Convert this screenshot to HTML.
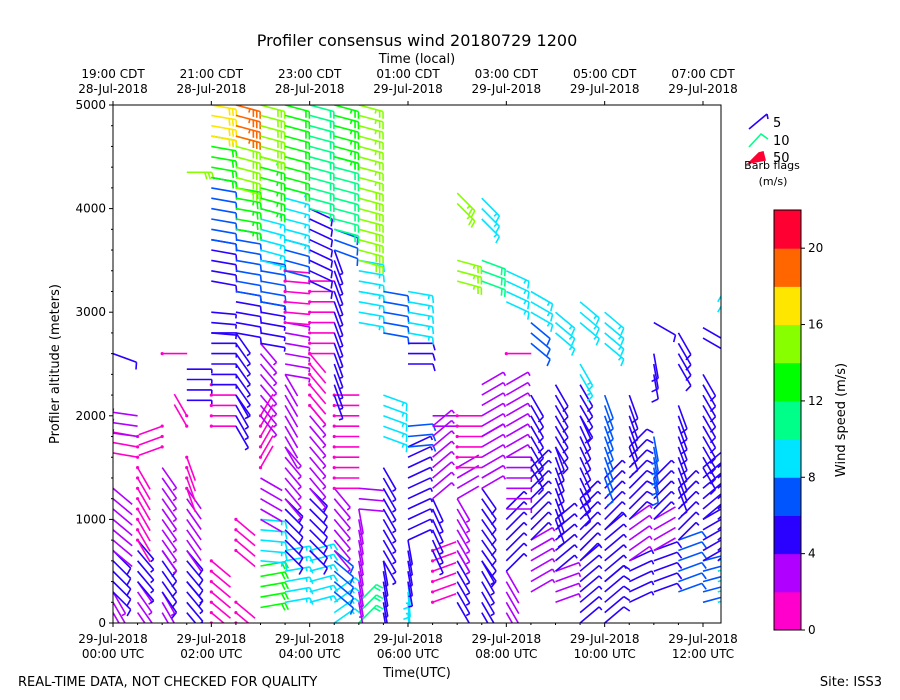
<!DOCTYPE html>
<html><head><meta charset="utf-8"><style>
body{margin:0;background:#fff;}
svg{display:block;font-family:"DejaVu Sans","Liberation Sans",sans-serif;}
</style></head><body>
<svg id="chart" width="900" height="700" viewBox="0 0 900 700">
<defs><clipPath id="plotclip"><rect x="113" y="105" width="608" height="518"/></clipPath></defs>
<text x="417" y="46" font-size="16" text-anchor="middle">Profiler consensus wind 20180729 1200</text>
<text x="417" y="63" font-size="13" text-anchor="middle">Time (local)</text>
<text x="417" y="677" font-size="13" text-anchor="middle">Time(UTC)</text>
<text x="59" y="364" font-size="13" text-anchor="middle" transform="rotate(-90 59 364)">Profiler altitude (meters)</text>
<text x="18" y="686" font-size="13">REAL-TIME DATA, NOT CHECKED FOR QUALITY</text>
<text x="882" y="686" font-size="13" text-anchor="end">Site: ISS3</text>
<g id="barbs" clip-path="url(#plotclip)"></g>
<g id="axes"></g>
<g id="cbar"></g>
<g>
 <path d="M749 129 L767 114 M767 114 L768 119" stroke="#2a00ff" stroke-width="1.6" fill="none"/>
 <text x="773" y="127" font-size="13">5</text>
 <path d="M749 147 L761 134 L768 139" stroke="#00ff88" stroke-width="1.6" fill="none"/>
 <text x="773" y="145" font-size="13">10</text>
 <path d="M749 163 L759 153 L763 152 L765 160 Z" stroke="#ff0033" stroke-width="1.6" fill="#ff0033"/>
 <text x="773" y="162" font-size="13">50</text>
 <text x="772" y="169" font-size="11" text-anchor="middle">Barb flags</text>
 <text x="773" y="185" font-size="11" text-anchor="middle">(m/s)</text>
</g>
</svg>
<script>
// column times (hours UTC) and segments [h0, h1, speed m/s, screen angle deg]
const colTimes = [0,0.5,1,1.5,2,2.5,3,3.5,4,4.5,5,5.5,6,6.5,7,7.5,8,8.5,9,9.5,10,10.5,11,11.5,12,12.3];
const colSegments = [
 [[0,300,3,-60],[300,700,5,-45],[700,1300,2,-40],[2600,2650,5,-20]],
 [[0,400,3,-55],[400,800,4,-50],[800,1500,1,-60],[1600,1800,1,170],[1800,2050,3,172]],
 [[0,300,3,-60],[300,700,5,-55],[700,1500,3,-55],[1700,1950,1,-160],[2600,2600,1,0]],
 [[100,400,4,-50],[400,700,5,-50],[700,1300,2,-55],[1300,1650,1,-70],[1900,2000,1,120],[2150,2450,4,0],[4350,4350,15,0]],
 [[0,150,1,-40],[200,600,1,-40],[1900,2300,1,0],[2300,2800,4,0],[2800,3000,4,-5],[3300,3700,5,-10],[3700,4300,7,-10],[4300,4700,12,-10],[4700,5000,17,-10]],
 [[0,250,1,-40],[700,1000,1,-40],[1900,2200,4,-60],[2200,2800,4,-55],[2800,3200,5,-10],[3200,3800,7,-10],[3800,4200,13,-10],[4200,4700,15,-15],[4700,5000,18,-15]],
 [[150,600,12,10],[600,1000,8,-5],[1000,1400,2,-30],[1500,2000,1,60],[2000,2700,3,-50],[2700,3100,4,-10],[3100,3500,7,-10],[3500,4000,8,-15],[4000,4500,13,-15],[4500,5000,15,-15]],
 [[200,700,9,10],[700,1200,5,-45],[1200,1700,3,-50],[1700,2400,2,-60],[2400,2900,3,-10],[2900,3400,1,-5],[3400,3700,6,-15],[3700,4200,9,-15],[4200,5000,12,-15]],
 [[200,700,8,15],[700,1300,5,-45],[1300,2100,3,-50],[2100,2600,1,-50],[2600,3300,1,0],[3300,4000,5,-25],[4000,5000,10,-15]],
 [[0,300,9,35],[300,700,6,-40],[700,1300,3,-50],[1300,2200,1,0],[2200,3600,4,-70],[3600,3800,7,-20],[3800,4500,11,-15],[4500,5000,13,-15]],
 [[0,200,11,45],[200,1100,3,-80],[1100,1300,2,-5],[2900,3200,8,-10],[3200,3500,9,-10],[3500,4200,15,-15],[4300,5000,14,-15]],
 [[0,600,4,-80],[600,1500,4,-60],[1800,2200,8,-20],[2800,3200,7,-10]],
 [[0,400,8,-85],[400,800,4,-80],[800,1700,4,25],[1700,1900,6,5],[2500,2700,5,0],[2800,3200,9,-10]],
 [[200,700,1,20],[700,1200,4,-65],[1200,1900,3,40],[1900,2050,2,0]],
 [[200,700,4,-60],[700,1200,3,-60],[1200,1500,2,30],[1500,2000,1,0],[3300,3500,14,-15],[4050,4200,14,-45]],
 [[0,600,4,-60],[600,1300,5,-55],[1300,1800,3,30],[1800,2300,3,30],[3300,3500,10,-20],[3900,4100,9,-45]],
 [[0,500,2,-60],[500,1100,4,45],[1100,1600,3,0],[1600,2300,3,30],[3100,3400,9,-25],[2600,2600,1,0]],
 [[300,800,3,30],[800,1500,4,45],[1500,2200,5,-60],[2700,2900,6,-40],[3000,3200,9,-30]],
 [[200,500,3,20],[500,1000,4,40],[1000,1700,5,-70],[1700,2300,5,-60],[2800,3000,8,-40]],
 [[0,600,4,40],[600,1200,4,45],[1200,2000,5,-65],[2000,2300,5,-60],[2400,2550,9,-60],[2900,3100,8,-40]],
 [[0,400,5,40],[400,900,4,40],[900,1400,4,45],[1400,2200,6,-70],[2700,3000,9,-40]],
 [[200,600,4,25],[600,1000,3,35],[1000,1700,5,45],[1700,2200,5,-70]],
 [[300,700,5,20],[700,1000,2,30],[1000,1400,4,45],[1400,1800,6,-80],[2400,2600,5,-80],[2900,2950,5,-30]],
 [[300,800,6,20],[800,1300,4,45],[1300,2100,5,-70],[2500,2800,5,-60]],
 [[200,600,7,15],[600,1000,5,30],[1000,1500,5,40],[1500,2400,5,-60],[2750,2850,5,-30]],
 [[200,600,8,15],[600,1500,5,40],[3000,3100,9,60]]
];
const bottomTicks = ["00:00","02:00","04:00","06:00","08:00","10:00","12:00"];
const bottomTickHours = [0,2,4,6,8,10,12];
const topTicks = ["19:00 CDT|28-Jul-2018","21:00 CDT|28-Jul-2018","23:00 CDT|28-Jul-2018","01:00 CDT|29-Jul-2018","03:00 CDT|29-Jul-2018","05:00 CDT|29-Jul-2018","07:00 CDT|29-Jul-2018"];
const yTicks = [0,1000,2000,3000,4000,5000];
const cbarTicks = [0,4,8,12,16,20];
const cbarColors = ["#ff00cc","#b000ff","#2a00ff","#0055ff","#00e5ff","#00ff88","#00ff00","#88ff00","#ffe600","#ff6600","#ff0033"];

const NS='http://www.w3.org/2000/svg';
const X0=113,X1=721,Y0=623,Y1=105;
const xs=t=>X0+t*(703-113)/12;
const ys=h=>Y0-(h/5000)*(Y0-Y1);
const colorOf=s=>cbarColors[Math.max(0,Math.min(10,Math.floor(s/2)))];
function mk(tag,attrs,parent){const e=document.createElementNS(NS,tag);for(const k in attrs)e.setAttribute(k,attrs[k]);parent.appendChild(e);return e;}

const barbs=document.getElementById('barbs');
colSegments.forEach((segs,ci)=>{
  const cx=xs(colTimes[ci]);
  segs.forEach(seg=>{
    const [h0,h1,sp,ang]=seg;
    for(let h=h0;h<=h1;h+=100){
      const y=ys(h);
      const a=ang*Math.PI/180;
      const L=25;
      const tx=cx+Math.cos(a)*L, ty=y-Math.sin(a)*L;
      const col=colorOf(sp);
      let d=`M${cx.toFixed(1)} ${y.toFixed(1)} L${tx.toFixed(1)} ${ty.toFixed(1)}`;
      const ux=Math.cos(a),uy=-Math.sin(a);
      const px=-uy,py=ux;
      const full=Math.floor(sp/5), half=(sp%5)>=2.5?1:0;
      let k=0;
      for(let f=0;f<full;f++,k++){
        const bx=tx-ux*k*3.5,by=ty-uy*k*3.5;
        d+=` M${bx.toFixed(1)} ${by.toFixed(1)} L${(bx+px*7+ux*2).toFixed(1)} ${(by+py*7+uy*2).toFixed(1)}`;
      }
      if(half){const bx=tx-ux*k*3.5,by=ty-uy*k*3.5;d+=` M${bx.toFixed(1)} ${by.toFixed(1)} L${(bx+px*4).toFixed(1)} ${(by+py*4).toFixed(1)}`;}
      const p=mk('path',{d:d,stroke:col,'stroke-width':1.6,fill:'none'},barbs);
      
      
      if(sp<2){const c=mk('circle',{cx:cx,cy:y,r:1.6,fill:col},barbs);
        
        }
    }
  });
});

const ax=document.getElementById('axes');
const frame=mk('rect',{x:X0,y:Y1,width:X1-X0,height:Y0-Y1,fill:'none',stroke:'#000','stroke-width':1},ax);


for(let t=0;t<=12.5;t+=0.5){
  const x=xs(t); if(x>X1)break;
  const major=bottomTickHours.includes(t);
  mk('line',{x1:x,x2:x,y1:Y0,y2:Y0+(major?4:2),stroke:'#000'},ax);
}
bottomTickHours.forEach((t,i)=>{
  const x=xs(t);
  mk('line',{x1:x,x2:x,y1:Y1,y2:Y1-4,stroke:'#000'},ax);
  const tb=mk('text',{x:x,y:Y0+20,'font-size':12,'text-anchor':'middle'},ax);
  
  
  tb.textContent='29-Jul-2018';
  const tb2=mk('text',{x:x,y:Y0+35,'font-size':12,'text-anchor':'middle'},ax);
  
  
  tb2.textContent=bottomTicks[i]+' UTC';
  const parts=topTicks[i].split('|');
  const t1=mk('text',{x:x,y:Y1-27,'font-size':12,'text-anchor':'middle'},ax);
  
  
  t1.textContent=parts[0];
  const t2=mk('text',{x:x,y:Y1-12,'font-size':12,'text-anchor':'middle'},ax);
  
  
  t2.textContent=parts[1];
});
for(let h=0;h<=5000;h+=200){
  const y=ys(h),major=h%1000===0;
  mk('line',{x1:X0,x2:X0-(major?4:2),y1:y,y2:y,stroke:'#000'},ax);
}
yTicks.forEach(h=>{
  const tl=mk('text',{x:X0-7,y:ys(h)+4,'font-size':12,'text-anchor':'end'},ax);
  
  
  tl.textContent=h;
});

const cb=document.getElementById('cbar');
const CX=774,CW=27,CT=210,CB=630;
const bh=(CB-CT)/cbarColors.length;
cbarColors.forEach((c,i)=>{
  const r=mk('rect',{x:CX,y:CB-(i+1)*bh,width:CW,height:bh+0.5,fill:c},cb);
  
  
});
mk('rect',{x:CX,y:CT,width:CW,height:CB-CT,fill:'none',stroke:'#000'},cb);
cbarTicks.forEach(v=>{
  const y=CB-v/22*(CB-CT);
  mk('line',{x1:CX+CW,x2:CX+CW+4,y1:y,y2:y,stroke:'#000'},cb);
  const tl=mk('text',{x:CX+CW+7,y:y+4,'font-size':12},cb);
  
  
  tl.textContent=v;
});
const cl=mk('text',{x:845,y:420,'font-size':13,'text-anchor':'middle',transform:'rotate(-90 845 420)'},cb);


cl.textContent='Wind speed (m/s)';
</script>
</body></html>
